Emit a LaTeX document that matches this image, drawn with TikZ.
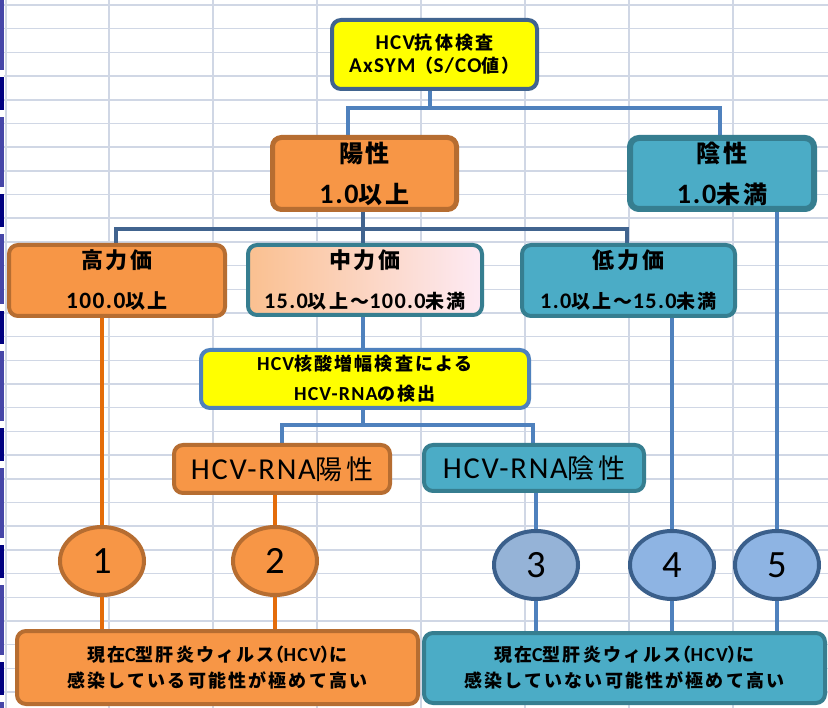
\documentclass[tikz,border=0pt]{standalone}
\usepackage{fontspec}
\setmainfont{Carlito}[LetterSpace=6,Scale=1.17]
\newfontfamily\jp{Noto Sans CJK JP}[LetterSpace=12]
\newfontfamily\jpp{Noto Sans CJK JP}[RawFeature=+palt]
\newcommand\J[1]{{\jp #1}}
\newcommand\JP[1]{{\jpp #1}}
\usetikzlibrary{shapes.geometric,backgrounds}
\definecolor{gridc}{HTML}{D0D7E5}
\definecolor{purp}{HTML}{4646A8}
\definecolor{navyc}{HTML}{000080}
\definecolor{orF}{HTML}{F79646}
\definecolor{orD}{HTML}{B66D31}
\definecolor{orL}{HTML}{E46C0A}
\definecolor{tlF}{HTML}{4BACC6}
\definecolor{tlD}{HTML}{367E90}
\definecolor{blL}{HTML}{4F81BD}
\definecolor{blD}{HTML}{41648F}
\definecolor{yel}{HTML}{FFFF00}
\definecolor{midL}{HTML}{FAC090}
\definecolor{midR}{HTML}{FDEAF4}
\definecolor{cgray}{HTML}{95B3D7}
\definecolor{clight}{HTML}{8EB4E3}
\definecolor{cD}{HTML}{3A5F8B}
\pgfdeclarelayer{gridlayer}
\pgfsetlayers{gridlayer,background,main}
\begin{document}
\begin{tikzpicture}[x=1pt,y=-1pt,
  box/.style={rounded corners=9pt, line width=4pt, align=center, inner sep=0pt, font=\bfseries},
  obox/.style={box, fill=orF, draw=orD},
  tbox/.style={box, fill=tlF, draw=tlD},
  ybox/.style={box, fill=yel},
  circ/.style={ellipse, line width=4pt, inner sep=0pt, minimum width=84pt, minimum height=68pt, font=\fontsize{33}{33}\selectfont},
  ocirc/.style={circ, fill=orF, draw=orD},
  bcirc/.style={circ, fill=clight, draw=cD},
  oconn/.style={draw=orL, line width=4.5pt},
  bconn/.style={draw=blL, line width=4pt},
  dconn/.style={draw=blD, line width=4pt},
  gline/.style={draw=gridc, line width=1.5pt}
]
\useasboundingbox (0,0) rectangle (828,708);
\begin{pgfonlayer}{gridlayer}
\fill[white] (0,0) rectangle (828,708);
\foreach \i in {0,...,6} \draw[gline] ({109+104*\i},0) -- ({109+104*\i},708);
\draw[gline] (6,0) -- (6,708);
\foreach \i in {0,...,29} \draw[gline] (4,{5+23.69*\i}) -- (828,{5+23.69*\i});
\foreach \k in {0,...,6} {
  \fill[purp] (0,{117*\k}) rectangle (4,{117*\k+70});
  \fill[navyc] (0,{117*\k+77}) rectangle (4,{117*\k+110});
}
\end{pgfonlayer}

% level 1
\node[ybox, draw=blD, minimum width=205pt, minimum height=69pt, font=\bfseries\fontsize{18}{23}\selectfont] (top) at (434.5,54.5) {HCV\J{抗体検査}\\AxSYM\J{（}S/CO\J{値）}};
% level 2
\node[obox, line width=5pt, minimum width=184pt, minimum height=72pt, font=\bfseries\fontsize{24}{41}\selectfont] (pos) at (364.5,173.5) {\J{陽性}\\1.0\J{以上}};
\node[tbox, line width=6pt, minimum width=184pt, minimum height=71pt, font=\bfseries\fontsize{24}{41}\selectfont] (neg) at (722,173.5) {\J{陰性}\\1.0\J{未満}};
% level 3
\node[obox, minimum width=216pt, minimum height=71pt, font=\bfseries\fontsize{20}{40}\selectfont] (high) at (117,280.5) {{\fontsize{22}{22}\selectfont\J{高力価}}\\100.0\J{以上}};
\node[box, left color=midL, right color=midR, draw=tlD, minimum width=234pt, minimum height=70pt, font=\bfseries\fontsize{19}{40}\selectfont] (mid) at (365,280) {{\fontsize{22}{22}\selectfont\J{中力価}}\\15.0\J{以上～}100.0\J{未満}};
\node[tbox, minimum width=213pt, minimum height=71pt, font=\bfseries\fontsize{19}{40}\selectfont] (low) at (628.5,280.5) {{\fontsize{22}{22}\selectfont\J{低力価}}\\1.0\J{以上～}15.0\J{未満}};
% nucleic acid test
\node[ybox, draw=blL, minimum width=328pt, minimum height=58pt, font=\bfseries\fontsize{17}{30}\selectfont] (nat) at (365,379) {HCV\J{\fontsize{18}{18}\selectfont 核酸増幅検査による}\\HCV-RNA\J{\fontsize{18}{18}\selectfont の検出}};
\node[obox, minimum width=216pt, minimum height=48pt, font=\fontsize{26}{26}\selectfont] (rpos) at (282,469) {HCV-RNA\J{\fontsize{27}{27}\selectfont 陽性}};
\node[tbox, minimum width=220pt, minimum height=46pt, font=\fontsize{26}{26}\selectfont] (rneg) at (534,468) {HCV-RNA\J{\fontsize{27}{27}\selectfont 陰性}};
% circles
\node[ocirc] (c1) at (102,561) {1};
\node[ocirc] (c2) at (275,561) {2};
\node[circ, fill=cgray, draw=cD] (c3) at (536,565) {3};
\node[bcirc] (c4) at (672,565) {4};
\node[bcirc] (c5) at (777,565) {5};
% outcomes
\node[obox, minimum width=401pt, minimum height=73pt, font=\bfseries\fontsize{17}{26}\selectfont] (outL) at (217.5,667.5) {\J{\fontsize{18}{18}\selectfont 現在}C\J{\fontsize{18}{18}\selectfont 型肝炎ウィルス}\JP{\fontsize{18}{18}\selectfont （}HCV\JP{\fontsize{18}{18}\selectfont ）}\J{\fontsize{18}{18}\selectfont に}\\\J{\fontsize{18}{18}\selectfont 感染している可能性が極めて高い}};
\node[tbox, minimum width=401pt, minimum height=70pt, font=\bfseries\fontsize{17}{26}\selectfont] (outR) at (624.5,668) {\J{\fontsize{18}{18}\selectfont 現在}C\J{\fontsize{18}{18}\selectfont 型肝炎ウィルス}\JP{\fontsize{18}{18}\selectfont （}HCV\JP{\fontsize{18}{18}\selectfont ）}\J{\fontsize{18}{18}\selectfont に}\\\J{\fontsize{18}{18}\selectfont 感染していない可能性が極めて高い}};

\begin{pgfonlayer}{background}
\coordinate (b1M) at (430,108);
\coordinate (b1R) at (720,108);
\draw[bconn] ([xshift=-4.5pt]top.south) -- (b1M);
\draw[bconn] ([xshift=-16.5pt]pos.north) |- (b1R) -- ([xshift=-2pt]neg.north);
\coordinate (b2R) at (627,229);
\draw[dconn] ([xshift=-1.5pt]pos.south) -- ([xshift=-2pt]mid.north);
\draw[dconn] ([xshift=-1pt]high.north) |- (b2R) -- ([xshift=-1.5pt]low.north);
\draw[bconn] ([xshift=-2pt]mid.south) -- ([xshift=-2pt]nat.north);
\coordinate (b3M) at (363,425);
\coordinate (b3R) at (533,425);
\draw[bconn] ([xshift=-2pt]nat.south) -- (b3M);
\draw[bconn] (rpos.north) |- (b3R) -- ([xshift=-1pt]rneg.north);
\draw[oconn] (c1.north |- high.south) -- (c1.north);
\draw[oconn] (c1.south) -- (c1.south |- outL.north);
\draw[oconn] (c2.north |- rpos.south) -- (c2.north);
\draw[oconn] (c2.south) -- (c2.south |- outL.north);
\draw[bconn] (c3.north |- rneg.south) -- (c3.north);
\draw[bconn] (c3.south) -- (c3.south |- outR.north);
\draw[bconn] (c4.north |- low.south) -- (c4.north);
\draw[bconn] (c4.south) -- (c4.south |- outR.north);
\draw[bconn] (c5.north |- neg.south) -- (c5.north);
\draw[bconn] (c5.south) -- (c5.south |- outR.north);
\end{pgfonlayer}
\end{tikzpicture}
\end{document}
